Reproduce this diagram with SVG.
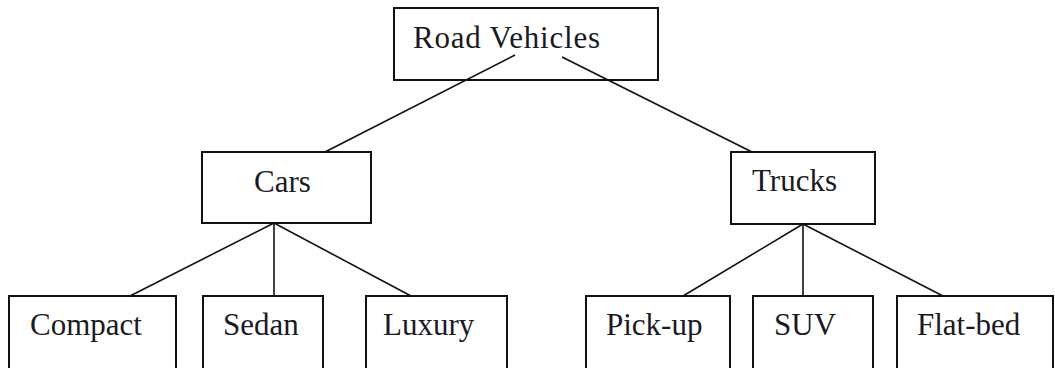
<svg xmlns="http://www.w3.org/2000/svg" width="1055" height="368" viewBox="0 0 1055 368">
<style>
.box{fill:#fff;stroke:#111;stroke-width:2}
.lbl{font-family:"Liberation Serif","Times New Roman",serif;font-size:31px;fill:#1a1a24}
.conn line{stroke:#111;stroke-width:1.6}
</style>
<rect width="1055" height="368" fill="#fff"/>
<g id="root"><rect class="box" x="394" y="8" width="264" height="72"/><text class="lbl" x="413" y="48" textLength="187" lengthAdjust="spacing">Road Vehicles</text></g>
<g id="cars"><rect class="box" x="202" y="152" width="169" height="71"/><text class="lbl" x="254" y="192">Cars</text></g>
<g id="trucks"><rect class="box" x="731" y="152" width="144" height="72"/><text class="lbl" x="752" y="191">Trucks</text></g>
<g id="compact"><rect class="box" x="9" y="296" width="167" height="80"/><text class="lbl" x="30" y="335">Compact</text></g>
<g id="sedan"><rect class="box" x="203" y="296" width="120" height="80"/><text class="lbl" x="223" y="335">Sedan</text></g>
<g id="luxury"><rect class="box" x="366" y="296" width="141" height="80"/><text class="lbl" x="383" y="335">Luxury</text></g>
<g id="pickup"><rect class="box" x="586" y="296" width="144" height="80"/><text class="lbl" x="606" y="335">Pick-up</text></g>
<g id="suv"><rect class="box" x="753" y="296" width="120" height="80"/><text class="lbl" x="774" y="335">SUV</text></g>
<g id="flatbed"><rect class="box" x="897" y="296" width="156" height="80"/><text class="lbl" x="917" y="335">Flat-bed</text></g>
<g class="conn" id="connectors">
<line x1="515" y1="55" x2="325" y2="152"/>
<line x1="562" y1="57" x2="752" y2="152"/>
<line x1="274" y1="223" x2="130" y2="296"/>
<line x1="274" y1="223" x2="274" y2="296"/>
<line x1="274" y1="223" x2="411" y2="296"/>
<line x1="803" y1="224" x2="683" y2="296"/>
<line x1="803" y1="224" x2="803" y2="296"/>
<line x1="803" y1="224" x2="943" y2="296"/>
</g>
</svg>
